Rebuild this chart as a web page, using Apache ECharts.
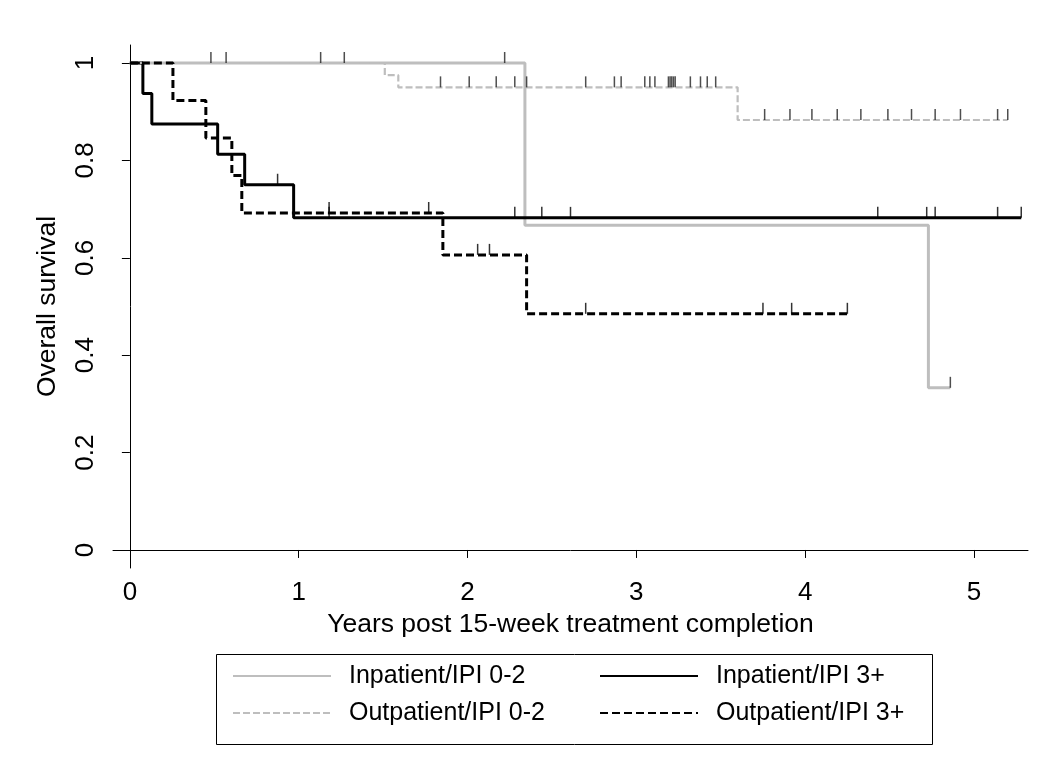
<!DOCTYPE html>
<html>
<head>
<meta charset="utf-8">
<script src="https://cdn.jsdelivr.net/npm/echarts@6/dist/echarts.min.js"></script>
<style>
  html, body { margin: 0; padding: 0; background: #fff; }
  #main { width: 1056px; height: 773px; }
</style>
</head>
<body>
<div id="main"></div>
<script>
// Kaplan-Meier steps: event times (years) and survival after each
var inpatLowTimes = [0, 2.34, 4.73, 4.86];
var inpatLowSurv = [1, 0.667, 0.333, 0.333];
var inpatLowCensor = [0.48, 0.57, 1.13, 1.27, 2.22, 4.86];

var inpatHighTimes = [0, 0.077, 0.13, 0.52, 0.68, 0.97, 5.28];
var inpatHighSurv = [1, 0.9375, 0.875, 0.8125, 0.75, 0.682, 0.682];
var inpatHighCensor = [0.875, 1.18, 2.28, 2.44, 2.61, 4.43, 4.72, 4.77, 5.14, 5.28];

var outpatLowTimes = [0, 1.51, 1.59, 3.60, 5.20];
var outpatLowSurv = [1, 0.975, 0.95, 0.883, 0.883];
var outpatLowCensor = [1.84, 2.01, 2.17, 2.28, 2.35, 2.70, 2.87, 2.91, 3.05, 3.08, 3.11,
    3.19, 3.20, 3.21, 3.22, 3.23, 3.32, 3.38, 3.42, 3.47,
    3.76, 3.91, 4.04, 4.19, 4.33, 4.49, 4.63, 4.77, 4.92, 5.14, 5.20];

var outpatHighTimes = [0, 0.255, 0.45, 0.604, 0.663, 1.854, 2.35, 4.25];
var outpatHighSurv = [1, 0.923, 0.846, 0.769, 0.692, 0.606, 0.485, 0.485];
var outpatHighCensor = [1.18, 1.77, 2.06, 2.13, 2.70, 3.75, 3.92, 4.25];

var xTicks = [0, 1, 2, 3, 4, 5];
var yTicks = [0, 0.2, 0.4, 0.6, 0.8, 1];
var seriesNames = ['Inpatient/IPI 0-2', 'Inpatient/IPI 3+', 'Outpatient/IPI 0-2', 'Outpatient/IPI 3+'];

var FONT = 'Liberation Sans, Arial, sans-serif';
var GRAY = '#bebebe';

function stepData(times, surv) {
    var out = [];
    for (var i = 0; i < times.length; i++) out.push([times[i], surv[i]]);
    return out;
}

// survival value of a curve at time t (for placing censor marks on the line)
function survAt(times, surv, t) {
    var s = surv[0];
    for (var i = 0; i < times.length; i++) {
        if (times[i] <= t) s = surv[i];
    }
    return s;
}

function censorData(times, surv, censor) {
    return censor.map(function(t) { return [t, survAt(times, surv, t)]; });
}

function kmLine(name, times, surv, color, width, type) {
    return {
        name: name,
        type: 'line',
        step: 'end',
        symbol: 'none',
        data: stepData(times, surv),
        lineStyle: { color: color, width: width, type: type },
        itemStyle: { color: color },
        z: 3
    };
}

function censorMarks(times, surv, censor, color) {
    return {
        name: 'censor',
        type: 'scatter',
        symbol: 'rect',
        symbolSize: [1.5, 11],
        symbolOffset: [0, -5.5],
        data: censorData(times, surv, censor),
        itemStyle: { color: color },
        silent: true,
        z: 4
    };
}

var chart = echarts.init(document.getElementById('main'));

var option = {
    animation: false,
    backgroundColor: '#fff',
    grid: { left: 113, right: 28, top: 45, bottom: 205 },
    xAxis: {
        type: 'value',
        min: -0.1,
        max: 5.32,
        axisLine: { show: true, lineStyle: { color: '#000', width: 1 } },
        axisTick: { show: true, length: 8, customValues: xTicks, lineStyle: { color: '#000' } },
        axisLabel: { customValues: xTicks, fontSize: 26, fontFamily: FONT, color: '#000', margin: 12 },
        splitLine: { show: false },
        name: 'Years post 15-week treatment completion',
        nameLocation: 'middle',
        nameGap: 42,
        nameTextStyle: { fontSize: 26.5, fontFamily: FONT, color: '#000' }
    },
    yAxis: {
        type: 'value',
        min: -0.037,
        max: 1.037,
        axisLine: { show: true, lineStyle: { color: '#000', width: 1 } },
        axisTick: { show: true, length: 8, customValues: yTicks, lineStyle: { color: '#000' } },
        axisLabel: {
            customValues: yTicks, rotate: 90, fontSize: 26, fontFamily: FONT, color: '#000', margin: 14,
            formatter: function(v) { return String(+v.toFixed(1)); }
        },
        splitLine: { show: false },
        name: 'Overall survival',
        nameLocation: 'middle',
        nameGap: 52,
        nameTextStyle: { fontSize: 26.5, fontFamily: FONT, color: '#000' }
    },
    legend: {
        data: seriesNames,
        left: 232,
        top: 661,
        width: 730,
        padding: 0,
        itemWidth: 98,
        itemHeight: 24,
        itemGap: 7,
        itemStyle: { opacity: 0 },
        textStyle: { fontSize: 25, fontFamily: FONT, color: '#000', width: 243, lineHeight: 30, padding: [0, 0, 0, 13] }
    },
    graphic: [{
        type: 'rect',
        left: 214,
        top: 652,
        shape: { width: 716, height: 90 },
        style: { fill: 'none', stroke: '#000', lineWidth: 1 },
        silent: true
    }],
    series: [
        kmLine(seriesNames[0], inpatLowTimes, inpatLowSurv, GRAY, 3, 'solid'),
        censorMarks(inpatLowTimes, inpatLowSurv, inpatLowCensor, '#222'),
        kmLine(seriesNames[1], inpatHighTimes, inpatHighSurv, '#000', 3, 'solid'),
        censorMarks(inpatHighTimes, inpatHighSurv, inpatHighCensor, '#000'),
        kmLine(seriesNames[2], outpatLowTimes, outpatLowSurv, GRAY, 2.2, [7, 3]),
        censorMarks(outpatLowTimes, outpatLowSurv, outpatLowCensor, '#222'),
        kmLine(seriesNames[3], outpatHighTimes, outpatHighSurv, '#000', 3, [8, 4]),
        censorMarks(outpatHighTimes, outpatHighSurv, outpatHighCensor, '#000')
    ]
};

chart.setOption(option);
</script>
</body>
</html>
